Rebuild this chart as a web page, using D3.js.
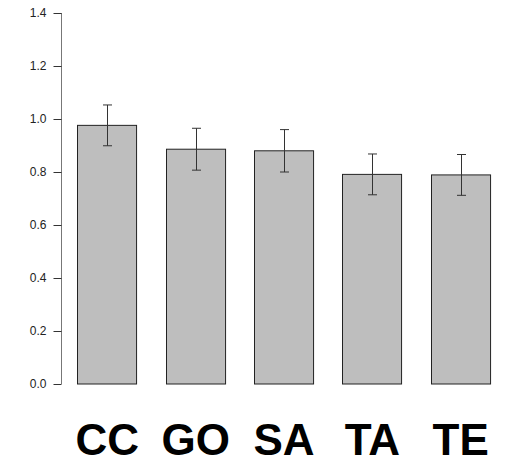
<!DOCTYPE html>
<html>
<head>
<meta charset="utf-8">
<script src="https://cdn.jsdelivr.net/npm/d3@7"></script>
<style>
  html, body { margin: 0; padding: 0; background: #fff; }
  svg { display: block; }
</style>
</head>
<body>
<svg id="chart" width="517" height="469"></svg>
<script>
// Group means with their standard errors
const categories = ["CC", "GO", "SA", "TA", "TE"];
const means      = [0.976, 0.886, 0.880, 0.791, 0.789];
const errors     = [0.077, 0.079, 0.080, 0.077, 0.077];
const yTicks     = [0.0, 0.2, 0.4, 0.6, 0.8, 1.0, 1.2, 1.4];
const titleText  = "Relative weight (fold)";

const svg = d3.select("#chart");

const y = d3.scaleLinear().domain([0, 1.4]).range([384, 13]);
const x = d3.scaleBand()
  .domain(categories)
  .range([77.3, 490.7])
  .paddingInner(0.32)
  .paddingOuter(0);

const data = categories.map((c, i) => ({ cat: c, mean: means[i], se: errors[i] }));

// Title sits above the plotting region, mostly outside the frame
svg.append("text")
  .attr("x", 506)
  .attr("y", -5)
  .attr("text-anchor", "end")
  .attr("font-family", "Liberation Sans, Arial, sans-serif")
  .attr("font-weight", "bold")
  .attr("font-size", 26)
  .attr("fill", "#000")
  .text(titleText);

// Y axis
const yAxis = d3.axisLeft(y)
  .tickValues(yTicks)
  .tickFormat(d3.format(".1f"))
  .tickSize(8)
  .tickPadding(7);

const gy = svg.append("g")
  .attr("transform", "translate(61.5,0)")
  .call(yAxis);
gy.select(".domain")
  .attr("d", `M0,${y(1.4)}V${y(0)}`)
  .attr("stroke", "#777");
gy.selectAll(".tick line").attr("stroke", "#333");
gy.selectAll(".tick text")
  .attr("font-family", "Liberation Sans, Arial, sans-serif")
  .attr("font-size", 12)
  .attr("fill", "#222");

// Bars
svg.append("g")
  .selectAll("rect")
  .data(data)
  .join("rect")
  .attr("x", d => Math.round(x(d.cat)) + 0.5)
  .attr("y", d => y(d.mean))
  .attr("width", x.bandwidth() - 1)
  .attr("height", d => y(0) - y(d.mean))
  .attr("fill", "#bebebe")
  .attr("stroke", "#222")
  .attr("stroke-width", 1);

// Error bars
const eb = svg.append("g")
  .attr("stroke", "#333")
  .attr("stroke-width", 1)
  .selectAll("g")
  .data(data)
  .join("g")
  .attr("transform", d => `translate(${Math.round(x(d.cat) + x.bandwidth() / 2) + 0.5},0)`);
eb.append("line")
  .attr("x1", 0).attr("x2", 0)
  .attr("y1", d => y(d.mean + d.se))
  .attr("y2", d => y(d.mean - d.se));
eb.append("line")
  .attr("x1", -4.5).attr("x2", 4.5)
  .attr("y1", d => y(d.mean + d.se))
  .attr("y2", d => y(d.mean + d.se));
eb.append("line")
  .attr("x1", -4.5).attr("x2", 4.5)
  .attr("y1", d => y(d.mean - d.se))
  .attr("y2", d => y(d.mean - d.se));

// Category labels
svg.append("g")
  .selectAll("text")
  .data(categories)
  .join("text")
  .attr("x", d => x(d) + x.bandwidth() / 2)
  .attr("y", 455)
  .attr("text-anchor", "middle")
  .attr("font-family", "Liberation Sans, Arial, sans-serif")
  .attr("font-weight", "bold")
  .attr("font-size", 44)
  .attr("fill", "#000")
  .text(d => d);
</script>
</body>
</html>
